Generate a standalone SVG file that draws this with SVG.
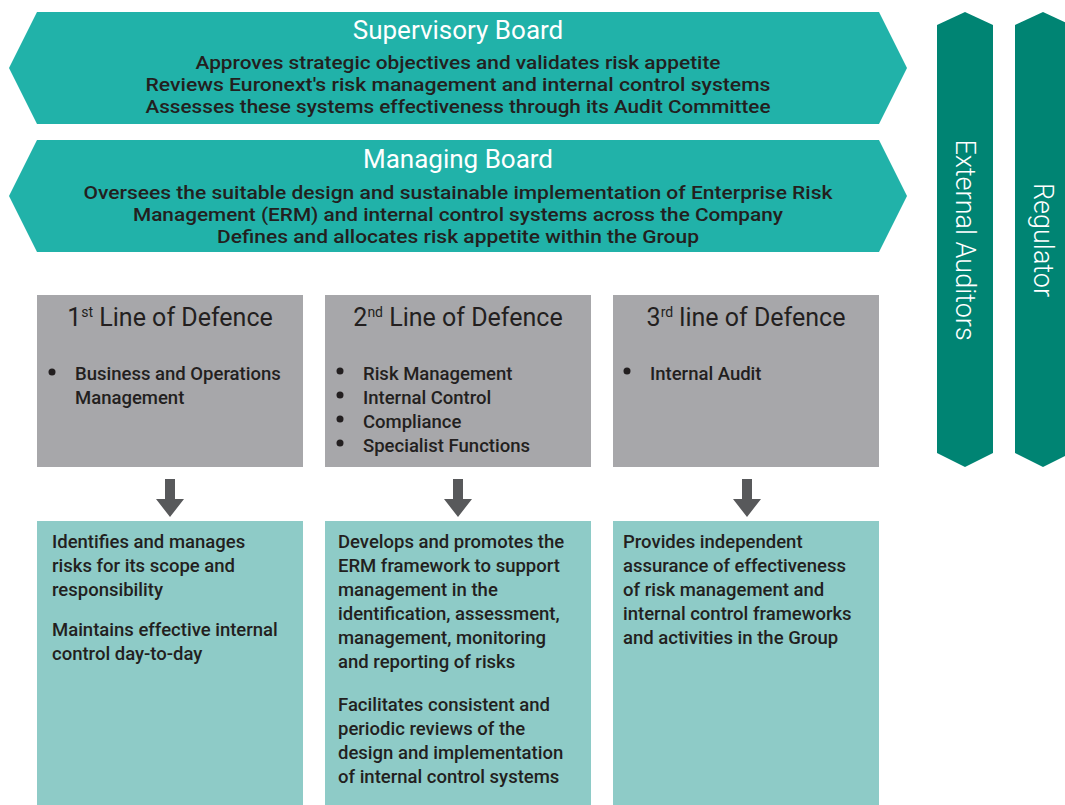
<svg xmlns="http://www.w3.org/2000/svg" width="1065" height="805" viewBox="0 0 1065 805">
<style>
text{font-family:Roboto,"Liberation Sans",sans-serif;}
.hex{fill:#21b2a9;}
.side{fill:#008473;}
.grey{fill:#a7a7aa;}
.teal{fill:#8ecbc7;}
.arrow{fill:#58595b;}
.ttl{fill:#ffffff;font-size:26px;text-anchor:middle;}
.body{fill:#231f20;font-size:19px;text-anchor:middle;font-weight:500;}
.gt{fill:#231f20;font-size:25px;text-anchor:middle;}
.sup{font-size:14px;}
.li{fill:#231f20;font-size:18.5px;font-weight:500;}
.tx{fill:#231f20;font-size:18.5px;font-weight:500;}
.vt{fill:#ffffff;font-size:27px;text-anchor:middle;font-weight:300;}
</style>
<rect width="1065" height="805" fill="#ffffff"/>
<g id="supervisory-board">
<polygon class="hex" points="37,12 879,12 907,68 879,124 37,124 9,68"/>
<text class="ttl" x="458" y="39">Supervisory Board</text>
<text class="body" x="458" y="69" textLength="525" lengthAdjust="spacingAndGlyphs">Approves strategic objectives and validates risk appetite</text>
<text class="body" x="458" y="91" textLength="625" lengthAdjust="spacingAndGlyphs">Reviews Euronext's risk management and internal control systems</text>
<text class="body" x="458" y="113" textLength="625" lengthAdjust="spacingAndGlyphs">Assesses these systems effectiveness through its Audit Committee</text>
</g>
<g id="managing-board">
<polygon class="hex" points="37,140 879,140 907,196 879,252 37,252 9,196"/>
<text class="ttl" x="458" y="168">Managing Board</text>
<text class="body" x="458" y="199" textLength="749" lengthAdjust="spacingAndGlyphs">Oversees the suitable design and sustainable implementation of Enterprise Risk</text>
<text class="body" x="458" y="221" textLength="650" lengthAdjust="spacingAndGlyphs">Management (ERM) and internal control systems across the Company</text>
<text class="body" x="458" y="243" textLength="482" lengthAdjust="spacingAndGlyphs">Defines and allocates risk appetite within the Group</text>
</g>
<g id="external-auditors">
<polygon class="side" points="965,12 993,25 993,453 965,467 937,453 937,25"/>
<text class="vt" transform="translate(956,240) rotate(90)">External Auditors</text>
</g>
<g id="regulator">
<polygon class="side" points="1043,12 1071,25 1071,453 1043,467 1015,453 1015,25"/>
<text class="vt" transform="translate(1034,240) rotate(90)">Regulator</text>
</g>
<g id="line1">
<rect class="grey" x="37" y="295" width="266" height="172"/>
<text class="gt" x="170" y="326">1<tspan class="sup" dy="-9">st</tspan><tspan dy="9"> Line of Defence</tspan></text>
<circle cx="52" cy="372" r="3.5" fill="#231f20"/>
<text class="li" x="75" y="380">Business and Operations</text>
<text class="li" x="75" y="404">Management</text>
</g>
<g id="line2">
<rect class="grey" x="325" y="295" width="266" height="172"/>
<text class="gt" x="458" y="326">2<tspan class="sup" dy="-9">nd</tspan><tspan dy="9"> Line of Defence</tspan></text>
<circle cx="340" cy="371" r="3.5" fill="#231f20"/>
<circle cx="340" cy="395" r="3.5" fill="#231f20"/>
<circle cx="340" cy="419" r="3.5" fill="#231f20"/>
<circle cx="340" cy="443" r="3.5" fill="#231f20"/>
<text class="li" x="363" y="380">Risk Management</text>
<text class="li" x="363" y="404">Internal Control</text>
<text class="li" x="363" y="428">Compliance</text>
<text class="li" x="363" y="452">Specialist Functions</text>
</g>
<g id="line3">
<rect class="grey" x="613" y="295" width="266" height="172"/>
<text class="gt" x="746" y="326">3<tspan class="sup" dy="-9">rd</tspan><tspan dy="9"> line of Defence</tspan></text>
<circle cx="627" cy="371" r="3.5" fill="#231f20"/>
<text class="li" x="650" y="380">Internal Audit</text>
</g>
<g id="connectors">
<polygon class="arrow" points="165,479 175,479 175,499 184,499 170,517 156,499 165,499"/>
<polygon class="arrow" points="453,479 463,479 463,499 472,499 458,517 444,499 453,499"/>
<polygon class="arrow" points="742,479 752,479 752,499 761,499 747,517 733,499 742,499"/>
</g>
<g id="role1">
<rect class="teal" x="37" y="521" width="266" height="284"/>
<text class="tx" x="52" y="548">Identifies and manages</text>
<text class="tx" x="52" y="572">risks for its scope and</text>
<text class="tx" x="52" y="596">responsibility</text>
<text class="tx" x="52" y="636">Maintains effective internal</text>
<text class="tx" x="52" y="660">control day-to-day</text>
</g>
<g id="role2">
<rect class="teal" x="325" y="521" width="266" height="284"/>
<text class="tx" x="338" y="548">Develops and promotes the</text>
<text class="tx" x="338" y="572">ERM framework to support</text>
<text class="tx" x="338" y="596">management in the</text>
<text class="tx" x="338" y="620">identification, assessment,</text>
<text class="tx" x="338" y="644">management, monitoring</text>
<text class="tx" x="338" y="668">and reporting of risks</text>
<text class="tx" x="338" y="711">Facilitates consistent and</text>
<text class="tx" x="338" y="735">periodic reviews of the</text>
<text class="tx" x="338" y="759">design and implementation</text>
<text class="tx" x="338" y="783">of internal control systems</text>
</g>
<g id="role3">
<rect class="teal" x="613" y="521" width="266" height="284"/>
<text class="tx" x="623" y="548">Provides independent</text>
<text class="tx" x="623" y="572">assurance of effectiveness</text>
<text class="tx" x="623" y="596">of risk management and</text>
<text class="tx" x="623" y="620">internal control frameworks</text>
<text class="tx" x="623" y="644">and activities in the Group</text>
</g>
</svg>
